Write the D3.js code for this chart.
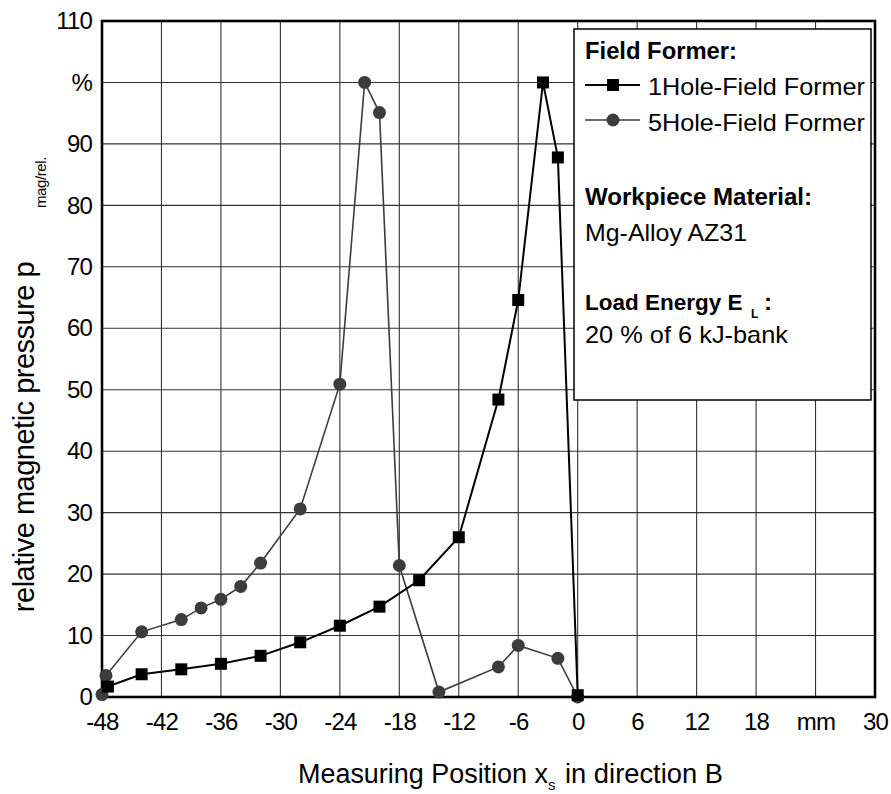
<!DOCTYPE html>
<html><head><meta charset="utf-8">
<script src="https://cdn.jsdelivr.net/npm/d3@7"></script>
<style>
body{margin:0;background:#fff}
svg{display:block}
text{font-family:"Liberation Sans",Arial,Helvetica,sans-serif;fill:#000}
</style>
</head><body>
<svg id="c" width="891" height="794"></svg>
<script>
// ---- data ----
const xTickValues = [-48,-42,-36,-30,-24,-18,-12,-6,0,6,12,18,24,30];
const xTickLabels = ["-48","-42","-36","-30","-24","-18","-12","-6","0","6","12","18","mm","30"];
const yTickValues = [0,10,20,30,40,50,60,70,80,90,100,110];
const yTickLabels = ["0","10","20","30","40","50","60","70","80","90","%","110"];

const hole1X = [-47.4,-44,-40,-36,-32,-28,-24,-20,-16,-12,-8,-6,-3.5,-2,0];
const hole1Y = [1.7,3.7,4.5,5.4,6.7,8.9,11.6,14.7,19.0,26.0,48.4,64.6,100,87.8,0.3];

const hole5X = [-48,-47.6,-44,-40,-38,-36,-34,-32,-28,-24,-21.5,-20,-18,-14,-8,-6,-2,0];
const hole5Y = [0.4,3.5,10.6,12.6,14.5,15.9,18.0,21.8,30.6,50.9,100,95.1,21.4,0.8,4.9,8.4,6.3,0];

const seriesNames = ["1Hole-Field Former","5Hole-Field Former"];

// ---- layout ----
const L = 102, R = 875, T = 21, B = 697;
const svg = d3.select("#c");
const x = d3.scaleLinear().domain([-48,30]).range([L,R]);
const y = d3.scaleLinear().domain([0,110]).range([B,T]);

// grid
const grid = svg.append("g").attr("stroke","#333").attr("stroke-width",1.1);
grid.selectAll("line.v").data(xTickValues.slice(1,-1)).join("line")
  .attr("x1",d=>x(d)).attr("x2",d=>x(d)).attr("y1",T).attr("y2",B);
grid.selectAll("line.h").data(yTickValues.slice(1,-1)).join("line")
  .attr("x1",L).attr("x2",R).attr("y1",d=>y(d)).attr("y2",d=>y(d));

// axes (labels only)
const ax = svg.append("g").attr("transform",`translate(0,${B})`)
  .call(d3.axisBottom(x).tickValues(xTickValues).tickFormat((d,i)=>xTickLabels[i]).tickSize(0).tickPadding(16));
const ay = svg.append("g").attr("transform",`translate(${L},0)`)
  .call(d3.axisLeft(y).tickValues(yTickValues).tickFormat((d,i)=>yTickLabels[i]).tickSize(0).tickPadding(10));
[ax,ay].forEach(g=>{
  g.select(".domain").remove();
  g.selectAll("text").attr("font-size",24).attr("letter-spacing","-0.8px")
   .attr("font-family",'"Liberation Sans",Arial,sans-serif').attr("fill","#000");
});

// frame
svg.append("rect").attr("x",L).attr("y",T).attr("width",R-L).attr("height",B-T)
  .attr("fill","none").attr("stroke","#000").attr("stroke-width",2.6);

// legend box
const lg = svg.append("g");
lg.append("rect").attr("x",574).attr("y",29).attr("width",297).attr("height",371)
  .attr("fill","#fff").attr("stroke","#000").attr("stroke-width",1.5);

function txt(s, px, py, size, weight, len){
  const t = lg.append("text").attr("x",px).attr("y",py).attr("font-size",size)
    .attr("font-weight",weight||"normal").text(s);
  if(len){ t.attr("textLength",len).attr("lengthAdjust","spacingAndGlyphs"); }
  return t;
}
txt("Field Former:",585,59,24,"bold",152);
// legend row 1
lg.append("line").attr("x1",585).attr("x2",640).attr("y1",85).attr("y2",85).attr("stroke","#000").attr("stroke-width",2);
lg.append("rect").attr("x",613-6).attr("y",85-6).attr("width",12).attr("height",12).attr("fill","#000");
txt(seriesNames[0],648,95,24,"normal",217);
// legend row 2
lg.append("line").attr("x1",585).attr("x2",640).attr("y1",120).attr("y2",120).attr("stroke","#3c3c3c").attr("stroke-width",1.6);
lg.append("circle").attr("cx",613).attr("cy",120).attr("r",6.5).attr("fill","#3c3c3c");
txt(seriesNames[1],648,131,24,"normal",217);
txt("Workpiece Material:",585,205,24,"bold",227);
txt("Mg-Alloy AZ31",585,241,24,"normal",162);
txt("Load Energy E",585,310,22.5,"bold");
txt("L",751,318,12,"bold");
txt(":",764,310,24,"bold");
txt("20 % of 6 kJ-bank",585,343,24,"normal",203);

// series
const line = d3.line().x(d=>x(d[0])).y(d=>y(d[1]));
const d1 = hole1X.map((v,i)=>[v,hole1Y[i]]);
const d5 = hole5X.map((v,i)=>[v,hole5Y[i]]);

svg.append("path").datum(d5).attr("d",line).attr("fill","none").attr("stroke","#3c3c3c").attr("stroke-width",1.6);
svg.append("g").selectAll("circle").data(d5).join("circle")
  .attr("cx",d=>x(d[0])).attr("cy",d=>y(d[1])).attr("r",6.5).attr("fill","#3c3c3c");

svg.append("path").datum(d1).attr("d",line).attr("fill","none").attr("stroke","#000").attr("stroke-width",2);
svg.append("g").selectAll("rect").data(d1).join("rect")
  .attr("x",d=>x(d[0])-6).attr("y",d=>y(d[1])-6).attr("width",12).attr("height",12).attr("fill","#000");

// axis titles
svg.append("text").attr("transform","translate(34,437) rotate(-90)")
  .attr("text-anchor","middle").attr("font-size",29).attr("letter-spacing","-0.5px")
  .text("relative magnetic pressure p");
svg.append("text").attr("transform","translate(46,208) rotate(-90)")
  .attr("text-anchor","start").attr("font-size",15).attr("letter-spacing","-0.4px")
  .text("mag/rel.");

svg.append("text").attr("x",298).attr("y",783).attr("font-size",27)
  .attr("textLength",250).attr("lengthAdjust","spacingAndGlyphs").text("Measuring Position x");
svg.append("text").attr("x",548).attr("y",790).attr("font-size",15).text("s");
svg.append("text").attr("x",565).attr("y",783).attr("font-size",27)
  .attr("textLength",158).attr("lengthAdjust","spacingAndGlyphs").text("in direction B");
</script>
</body></html>
